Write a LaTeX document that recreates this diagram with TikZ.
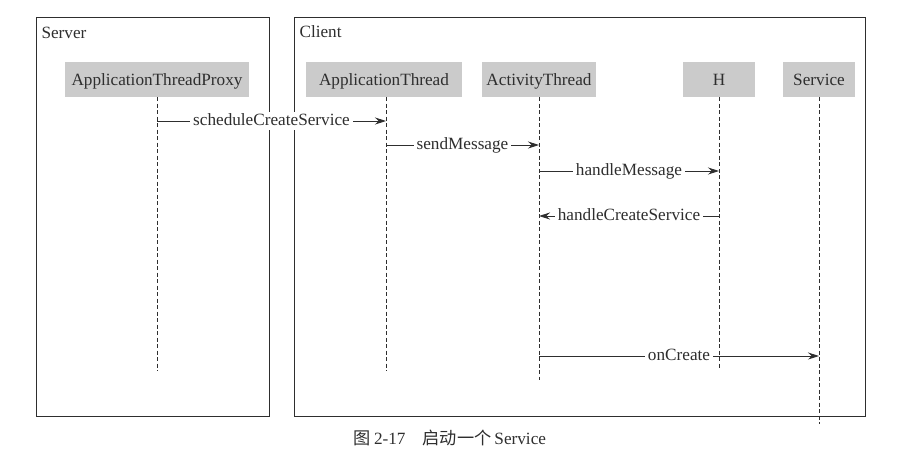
\documentclass[tikz,border=0pt]{standalone}
\usepackage{fontspec}
\setmainfont{Liberation Serif}
\newfontfamily\cjk{Noto Sans CJK SC}
\usetikzlibrary{arrows.meta}
\definecolor{ink}{HTML}{2E2E2E}
\definecolor{boxgray}{HTML}{CBCBCB}
\begin{document}
\begin{tikzpicture}[x=1pt,y=-1pt,
  every node/.style={font=\fontsize{17.2}{20}\selectfont, text=ink},
  frame/.style={draw=ink, line width=1pt},
  actor/.style={fill=boxgray, draw=none, minimum height=35pt, inner sep=0pt, text height=14pt, text depth=2pt},
  lifeline/.style={draw=ink, line width=0.9pt, dash pattern=on 4pt off 2.5pt},
  msg/.style={draw=ink, line width=0.9pt, -{Stealth[length=11pt,width=7pt]}},
  lbl/.style={fill=white, inner xsep=3pt, inner ysep=1pt, text height=12pt, text depth=4pt}]
\useasboundingbox (0,0) rectangle (901,464);
% frames
\draw[frame] (36,17) rectangle (269,416);
\draw[frame] (294,17) rectangle (865,416);
\node[anchor=west] (srv) at (38,33) {Server};
\node[anchor=west] (cli) at (296,32) {Client};
% actors
\node[actor, minimum width=184pt] (atp) at (157,79.5) {ApplicationThreadProxy};
\node[actor, minimum width=156pt] (at) at (384,79.5) {ApplicationThread};
\node[actor, minimum width=114pt] (act) at (539,79.5) {ActivityThread};
\node[actor, minimum width=72pt] (h) at (719,79.5) {H};
\node[actor, minimum width=72pt] (svc) at (819,79.5) {Service};
% lifeline ends
\coordinate (atpE) at (157,371);
\coordinate (atE) at (386,371);
\coordinate (actE) at (539,380);
\coordinate (hE) at (719,370);
\coordinate (svcE) at (819,424);
\draw[lifeline] (atp.south -| atpE) -- (atpE);
\draw[lifeline] (at.south -| atE) -- (atE);
\draw[lifeline] (act.south -| actE) -- (actE);
\draw[lifeline] (h.south -| hE) -- (hE);
\draw[lifeline] (svc.south -| svcE) -- (svcE);
% message points
\coordinate (m1a) at (157,121); \coordinate (m1b) at (386,121);
\coordinate (m2a) at (386,145); \coordinate (m2b) at (539,145);
\coordinate (m3a) at (539,171); \coordinate (m3b) at (719,171);
\coordinate (m4a) at (719,216); \coordinate (m4b) at (539,216);
\coordinate (m5a) at (539,356); \coordinate (m5b) at (819,356);
\draw[msg] (m1a) -- (m1b) node[lbl, midway] (l1) {scheduleCreateService};
\draw[msg] (m2a) -- (m2b) node[lbl, midway] (l2) {sendMessage};
\draw[msg] (m3a) -- (m3b) node[lbl, midway] (l3) {handleMessage};
\draw[msg] (m4a) -- (m4b) node[lbl, midway] (l4) {handleCreateService};
\draw[msg] (m5a) -- (m5b) node[lbl, midway] (l5) {onCreate};
% caption
\node (cap) at (450,438) {{\cjk 图}\,2-17\hspace{1em}{\cjk 启动一个}\,Service};
\end{tikzpicture}
\end{document}
